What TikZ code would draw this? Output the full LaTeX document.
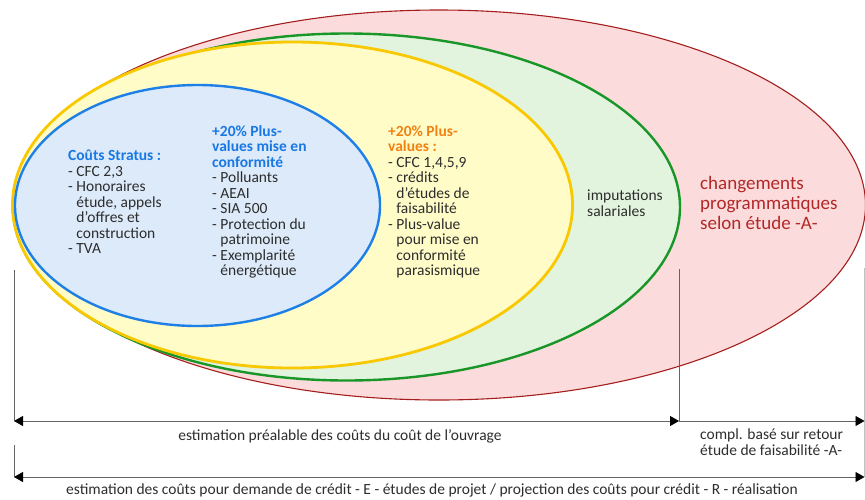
\documentclass[tikz,border=0pt]{standalone}
\usepackage{fontspec}
\setmainfont{Carlito}
\usepackage{tikz}
\usepackage{xcolor}
\usetikzlibrary{shapes,arrows.meta,positioning}

\definecolor{redline}{RGB}{165,30,30}
\definecolor{redfill}{RGB}{251,219,219}
\definecolor{redtext}{RGB}{178,40,40}
\definecolor{greenline}{RGB}{25,150,40}
\definecolor{greenfill}{RGB}{226,243,222}
\definecolor{yellowline}{RGB}{248,200,0}
\definecolor{yellowfill}{RGB}{255,252,200}
\definecolor{blueline}{RGB}{30,128,230}
\definecolor{bluefill}{RGB}{220,234,250}
\definecolor{bluetext}{RGB}{25,120,228}
\definecolor{orangetext}{RGB}{240,130,20}
\definecolor{textgray}{RGB}{45,45,45}
\definecolor{linegray}{RGB}{100,100,100}

\newcommand{\listindent}{\hphantom{- }}

\begin{document}
\begin{tikzpicture}[x=1pt, y=-1pt, font=\fontsize{15.5}{15.5}\selectfont,
    bubble/.style={ellipse, inner sep=0pt},
    txt/.style={anchor=north west, align=left, inner sep=0pt, text=textgray},
    dim/.style={draw=linegray, line width=0.8pt},
    head/.tip={Triangle[length=9pt, width=10pt, line width=0.8pt, color=black, fill=black]},
    tip/.style={-head},
    tips/.style={head-head}]
        \useasboundingbox (0,0) rectangle (865,499);

        % Changements programmatiques
        \node [bubble, draw=redline, fill=redfill, line width=1.1pt, minimum width=853pt, minimum height=390pt] (red) at (439,205) {};
        \node [txt, text=redtext, font=\fontsize{19}{20}\selectfont] (prog) at (700,176) {changements\\programmatiques\\selon étude -A-};

        % Imputations salariales
        \node [bubble, draw=greenline, fill=greenfill, line width=2.4pt, minimum width=667pt, minimum height=347pt] (green) at (346.5,207) {};
        \node [txt] (imput) at (587,190) {imputations\\salariales};

        % Plus-values
        \node [bubble, draw=yellowline, fill=yellowfill, line width=2.8pt, minimum width=560pt, minimum height=326pt] (yellow) at (292.5,205) {};
        \node [txt] (plusval) at (388,125) {\textbf{\color{orangetext}+20\% Plus-}\\\textbf{\color{orangetext}values :}\\- CFC 1,4,5,9\\- crédits\\\listindent d'études de\\\listindent faisabilité\\- Plus-value\\\listindent pour mise en\\\listindent conformité\\\listindent parasismique};

        % Couts Stratus
        \node [bubble, draw=blueline, fill=bluefill, line width=2.4pt, minimum width=365pt, minimum height=241pt] (blue) at (197.5,205.5) {};
        \node [txt] (stratus) at (68,150) {\textbf{\color{bluetext}Coûts Stratus :}\\- CFC 2,3\\- Honoraires\\\listindent étude, appels\\\listindent d'offres et\\\listindent construction\\- TVA};
        \node [txt] (conform) at (212,125) {\textbf{\color{bluetext}+20\% Plus-}\\\textbf{\color{bluetext}values mise en}\\\textbf{\color{bluetext}conformité}\\- Polluants\\- AEAI\\- SIA 500\\- Protection du\\\listindent patrimoine\\- Exemplarité\\\listindent énergétique};

        % Estimation lines
        \coordinate (top1) at (14,270);
        \coordinate (left1) at (14,421);
        \coordinate (topmid) at (679,269);
        \coordinate (mid1) at (679,421);
        \coordinate (right1) at (864.5,421);
        \coordinate (top2) at (14,445);
        \coordinate (left2) at (14,477);
        \coordinate (right2) at (864.5,477);
        \coordinate (edge) at (864.5,268);

        \draw [dim] (top1) -- (left1);
        \draw [dim] (topmid) -- (mid1);
        \draw [dim] (top2) -- (left2);
        \draw [dim, draw=linegray!40, line width=0.5pt] (edge) -- (right2);
        \draw [dim, tips] (left1) -- (mid1);
        \draw [dim, tip] (mid1) -- (right1);
        \draw [dim, tips] (left2) -- (right2);

        \node [txt, anchor=north] (prealable) at (340,429) {estimation préalable des coûts du coût de l'ouvrage};
        \node [txt] (compl) at (700,429) {compl. basé sur retour\\étude de faisabilité -A-};
        \node [txt, anchor=north] (credit) at (432,484) {estimation des coûts pour demande de crédit - E - études de projet / projection des coûts pour crédit - R - réalisation};
\end{tikzpicture}
\end{document}
